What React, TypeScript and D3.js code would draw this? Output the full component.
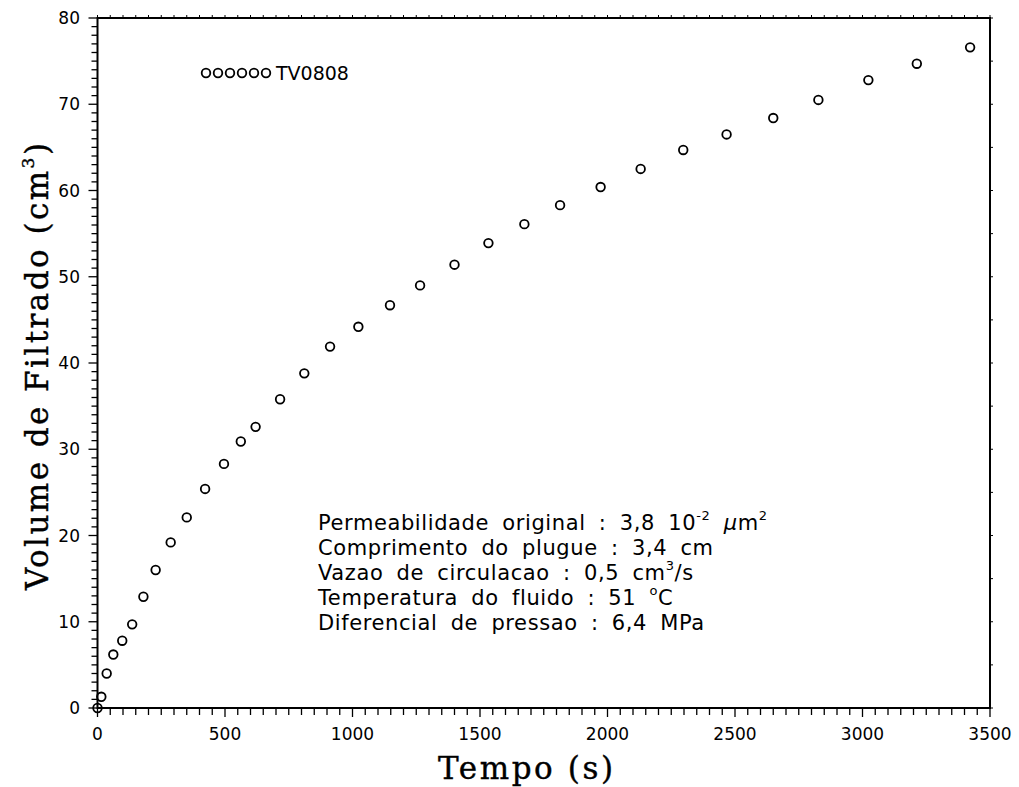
import React from "react";
import * as d3 from "d3";

const timeSec = [0, 15, 36, 62, 97, 136, 180, 228, 287, 350, 422, 496, 562, 620, 716, 811, 912, 1023, 1147, 1265, 1400, 1533, 1674, 1814, 1973, 2130, 2297, 2467, 2650, 2827, 3023, 3213, 3422];
const volume = [0, 1.3, 4.0, 6.2, 7.8, 9.7, 12.9, 16.0, 19.2, 22.1, 25.4, 28.3, 30.9, 32.6, 35.8, 38.8, 41.9, 44.2, 46.7, 49.0, 51.4, 53.9, 56.1, 58.3, 60.4, 62.5, 64.7, 66.5, 68.4, 70.5, 72.8, 74.7, 76.6];
const xTicks = [0, 500, 1000, 1500, 2000, 2500, 3000, 3500];
const yTicks = [0, 10, 20, 30, 40, 50, 60, 70, 80];
const seriesName = "TV0808";

const W = 1019, H = 787;
const L = 97.5, R = 990, T = 18, B = 708;

export default function App() {
  const x = d3.scaleLinear().domain([0, 3500]).range([L, R]);
  const y = d3.scaleLinear().domain([0, 80]).range([B, T]);
  const xMinor = d3.range(0, 3501, 50);
  const yMinor = d3.range(0, 81, 1);
  const sans = "'DejaVu Sans', sans-serif";
  const serif = "'DejaVu Serif', serif";
  const ann = { fontFamily: sans, fontSize: 21, letterSpacing: 0.6, wordSpacing: 6 } as any;
  const lineY = [530, 555, 580, 605, 630];
  return (
    <svg width={W} height={H} style={{ position: "absolute", left: 0, top: 0, background: "#fff" }}>
      {/* frame */}
      <rect x={L} y={T} width={R - L} height={B - T} fill="none" stroke="#000" strokeWidth={2} />
      {/* bottom ticks */}
      {xMinor.map((v) => (
        <line key={"xb" + v} x1={x(v)} x2={x(v)} y1={B} y2={B + (v % 500 === 0 ? 9 : 7)} stroke="#000" strokeWidth={1.3} />
      ))}
      {/* top ticks */}
      {xMinor.map((v) => (
        <line key={"xt" + v} x1={x(v)} x2={x(v)} y1={T} y2={T - 3} stroke="#000" strokeWidth={1} />
      ))}
      {/* left ticks */}
      {yMinor.map((v) => (
        <line key={"yl" + v} x1={L} x2={L - (v % 10 === 0 ? 9 : 6)} y1={y(v)} y2={y(v)} stroke="#000" strokeWidth={1.3} />
      ))}
      {/* right ticks */}
      {d3.range(0, 81, 5).map((v) => (
        <line key={"yr" + v} x1={R} x2={R + 3} y1={y(v)} y2={y(v)} stroke="#000" strokeWidth={1} />
      ))}
      {xTicks.map((v) => (
        <text key={"xl" + v} x={x(v)} y={740} textAnchor="middle" fontFamily={sans} fontSize={17}>{v}</text>
      ))}
      {yTicks.map((v) => (
        <text key={"yl" + v} x={80} y={y(v) + 6} textAnchor="end" fontFamily={sans} fontSize={17}>{v}</text>
      ))}
      {/* axis titles */}
      <text x={438} y={779} textLength={175} lengthAdjust="spacing" fontFamily={serif} fontSize={31} stroke="#000" strokeWidth={0.4}>Tempo (s)</text>
      <text transform={`translate(48,590) rotate(-90)`} textLength={447} lengthAdjust="spacing" fontFamily={serif} fontSize={31} stroke="#000" strokeWidth={0.4}>
        Volume de Filtrado (cm<tspan dy={-14} fontSize={17}>3</tspan><tspan dy={14}>)</tspan>
      </text>
      {/* data */}
      {timeSec.map((t, i) => (
        <circle key={"p" + i} cx={x(t)} cy={y(volume[i])} r={4.3} fill="none" stroke="#000" strokeWidth={1.8} />
      ))}
      {/* legend */}
      {d3.range(6).map((i) => (
        <circle key={"lg" + i} cx={206 + i * 12} cy={73} r={4.3} fill="none" stroke="#000" strokeWidth={1.8} />
      ))}
      <text x={276} y={80} fontFamily={sans} fontSize={19}>{seriesName}</text>
      {/* annotation */}
      <text x={318} y={lineY[0]} {...ann}>
        Permeabilidade original : 3,8 10<tspan dy={-10} fontSize={13}>-2</tspan>
        <tspan dy={10} fontStyle="italic"> μ</tspan>m<tspan dy={-10} fontSize={13}>2</tspan>
      </text>
      <text x={318} y={lineY[1]} {...ann}>Comprimento do plugue : 3,4 cm</text>
      <text x={318} y={lineY[2]} {...ann}>
        Vazao de circulacao : 0,5 cm<tspan dy={-10} fontSize={13}>3</tspan><tspan dy={10}>/s</tspan>
      </text>
      <text x={318} y={lineY[3]} {...ann}>
        Temperatura do fluido : 51 <tspan dy={-10} fontSize={13}>o</tspan><tspan dy={10}>C</tspan>
      </text>
      <text x={318} y={lineY[4]} {...ann}>Diferencial de pressao : 6,4 MPa</text>
    </svg>
  );
}
